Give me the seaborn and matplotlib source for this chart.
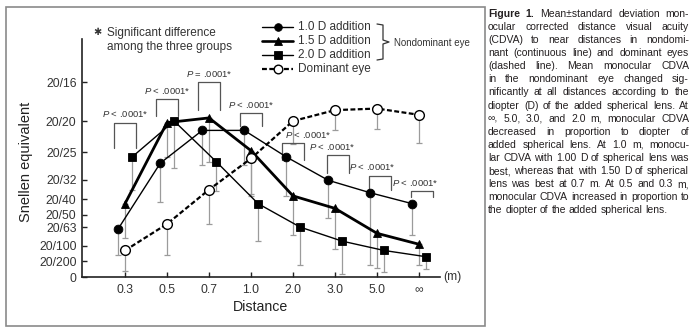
import numpy as np
import pandas as pd
import matplotlib
matplotlib.use('Agg')
import matplotlib.pyplot as plt
import seaborn as sns
from matplotlib.lines import Line2D
from matplotlib.patches import Rectangle

# ---------------- data ----------------
distances = ['0.3', '0.5', '0.7', '1.0', '2.0', '3.0', '5.0', '∞']
series_names = ['1.0 D addition', '1.5 D addition', '2.0 D addition', 'Dominant eye']

add_10 = [0.31, 0.73, 0.94, 0.94, 0.77, 0.62, 0.54, 0.47]
add_10_sd = [0.17, 0.25, 0.22, 0.22, 0.25, 0.24, 0.46, 0.20]
add_15 = [0.47, 0.99, 1.02, 0.81, 0.52, 0.44, 0.28, 0.21]
add_15_sd = [0.22, 0.22, 0.28, 0.28, 0.25, 0.26, 0.22, 0.13]
add_20 = [0.77, 1.00, 0.74, 0.47, 0.32, 0.23, 0.17, 0.13]
add_20_sd = [0.21, 0.30, 0.19, 0.24, 0.24, 0.21, 0.14, 0.08]
dominant = [0.17, 0.34, 0.56, 0.76, 1.00, 1.07, 1.08, 1.04]
dominant_sd = [0.13, 0.20, 0.22, 0.24, 0.15, 0.13, 0.13, 0.18]

snellen_labels = ['0', '20/200', '20/100', '20/63', '20/50', '20/40',
                  '20/32', '20/25', '20/20', '20/16']
snellen_denoms = [None, 200, 100, 63, 50, 40, 32, 25, 20, 16]

p_labels = ['$P$ < .0001*', '$P$ < .0001*', '$P$ = .0001*', '$P$ < .0001*',
            '$P$ < .0001*', '$P$ < .0001*', '$P$ < .0001*', '$P$ < .0001*']
bracket_top = [0.99, 1.14, 1.25, 1.05, 0.86, 0.78, 0.65, 0.55]
bracket_leg = [0.83, 1.03, 1.07, 0.97, 0.75, 0.67, 0.56, 0.51]
bracket_dx = [0, 0, 0, 0, 0, 0.07, 0.07, 0.07]
ptext_dx = [0, 0, 0, 0, 0.36, -0.07, -0.12, -0.1]

caption_lines = [
    "Figure 1. Mean\u00b1standard deviation mon-",
    "ocular corrected distance visual acuity",
    "(CDVA) to near distances in nondomi-",
    "nant (continuous line) and dominant eyes",
    "(dashed line). Mean monocular CDVA",
    "in the nondominant eye changed sig-",
    "nificantly at all distances according to the",
    "diopter (D) of the added spherical lens. At",
    "\u221e, 5.0, 3.0, and 2.0 m, monocular CDVA",
    "decreased in proportion to diopter of",
    "added spherical lens. At 1.0 m, monocu-",
    "lar CDVA with 1.00 D of spherical lens was",
    "best, whereas that with 1.50 D of spherical",
    "lens was best at 0.7 m. At 0.5 and 0.3 m,",
    "monocular CDVA increased in proportion to",
    "the diopter of the added spherical lens.",
]

values = [add_10, add_15, add_20, dominant]
sds = [add_10_sd, add_15_sd, add_20_sd, dominant_sd]

rows = []
for name, vals, sd in zip(series_names, values, sds):
    for i, (d, v, s) in enumerate(zip(distances, vals, sd)):
        rows.append(dict(series=name, distance=d, idx=i, acuity=v, sd=s))
df = pd.DataFrame(rows)

# ---------------- style ----------------
sns.set_style('ticks')
plt.rcParams['font.family'] = ['Liberation Sans', 'DejaVu Sans']
plt.rcParams['mathtext.fontset'] = 'custom'
plt.rcParams['mathtext.rm'] = 'Liberation Sans'
plt.rcParams['mathtext.it'] = 'Liberation Sans:italic'

styles = {
    '1.0 D addition': dict(marker='o', ms=6.3, lw=1.0, dashes=None, mfc='black', dx=-0.16),
    '1.5 D addition': dict(marker='^', ms=6.0, lw=2.0, dashes=None, mfc='black', dx=0.0),
    '2.0 D addition': dict(marker='s', ms=6.0, lw=1.0, dashes=None, mfc='black', dx=0.17),
    'Dominant eye': dict(marker='o', ms=7.0, lw=1.6, dashes=(2.2, 1.1), mfc='white', dx=0.0),
}

W, H = 690, 335
fig = plt.figure(figsize=(W / 100, H / 100), dpi=100)

def fx(x):
    return x / W

def fy(y):
    return 1 - y / H

ax = fig.add_axes([fx(82), fy(277), (440 - 82) / W, (277 - 39) / H])

for name in series_names:
    st = styles[name]
    sub = df[df.series == name].copy()
    sub['pos'] = sub['idx'] + st['dx']
    # error bars (lower SD only)
    ax.errorbar(sub['pos'], sub['acuity'], yerr=[sub['sd'], np.zeros(len(sub))],
                fmt='none', ecolor='#9b9b9b', elinewidth=0.9, capsize=2,
                capthick=0.9, zorder=1)
    kw = dict(color='black', marker=st['marker'], markersize=st['ms'],
              linewidth=st['lw'], markerfacecolor=st['mfc'],
              markeredgecolor='black', markeredgewidth=1.0 if st['mfc'] == 'white' else 0.6)
    if st['dashes'] is not None:
        kw['dashes'] = st['dashes']
    sns.lineplot(data=sub, x='pos', y='acuity', ax=ax, legend=False,
                 sort=False, errorbar=None, zorder=3, **kw)

# P-value brackets
hw = 0.27
for i, (lab, top, leg, bdx, tdx) in enumerate(zip(p_labels, bracket_top, bracket_leg,
                                                  bracket_dx, ptext_dx)):
    cx = i + bdx
    ax.plot([cx - hw, cx - hw, cx + hw, cx + hw], [leg, top, top, leg],
            color='#555555', lw=0.9, zorder=2)
    ax.annotate(lab, xy=(i + tdx, top), xytext=(0, 6), textcoords='offset points',
                ha='center', va='center', fontsize=6.8, color='#333333')

# axes formatting
ax.set_xlim(-1.024, 7.5)
ax.set_ylim(0, 1.526)
ax.set_xticks(range(len(distances)))
ax.set_xticklabels(distances, fontsize=8.7)
yt = [0 if d is None else 20 / d for d in snellen_denoms]
ax.set_yticks(yt)
ax.set_yticklabels(snellen_labels, fontsize=8.7)
for s in ['top', 'right']:
    ax.spines[s].set_visible(False)
for s in ['left', 'bottom']:
    ax.spines[s].set_linewidth(1.2)
    ax.spines[s].set_color('#222222')
ax.tick_params(axis='both', direction='in', length=3.5, width=1.0, colors='#222222',
               labelcolor='#333333')
ax.tick_params(axis='y', pad=4)
ax.tick_params(axis='x', pad=5)
ax.set_xlabel('Distance', fontsize=10.2, color='#222222')
ax.xaxis.set_label_coords((260 - 82) / 358, (277 - 307) / 238)
ax.xaxis.label.set_va('center')
ax.set_ylabel('Snellen equivalent', fontsize=10.5, color='#222222')
ax.yaxis.label.set_va('center')
ax.yaxis.set_label_coords((26 - 82) / 358, (277 - 162) / 238)
ax.text(1.008, 0.0, '(m)', transform=ax.transAxes, fontsize=8.7, va='center',
        ha='left', color='#333333')

# header note
fig.text(fx(93), fy(32), '\u2731', fontsize=7, va='center', ha='left', color='#333333',
         family=['DejaVu Sans'])
fig.text(fx(107), fy(33), 'Significant difference', fontsize=8.5, va='center',
         ha='left', color='#333333')
fig.text(fx(107), fy(47), 'among the three groups', fontsize=8.5, va='center',
         ha='left', color='#333333')

# legend (manual)
for i, name in enumerate(series_names):
    st = styles[name]
    y = 27 + 14 * i
    ln = Line2D([fx(262), fx(277.5), fx(293)], [fy(y)] * 3, transform=fig.transFigure,
                color='black', lw=st['lw'] if name != '1.5 D addition' else 1.9,
                marker=st['marker'], markevery=[1], markersize=st['ms'] - 0.8,
                markerfacecolor=st['mfc'], markeredgecolor='black',
                markeredgewidth=1.0 if st['mfc'] == 'white' else 0.6)
    if st['dashes'] is not None:
        ln.set_dashes(st['dashes'])
    fig.add_artist(ln)
    fig.text(fx(298), fy(y), name, fontsize=8.5, va='center', ha='left', color='#333333')

# brace for nondominant eye
bx = [377, 383, 383, 389, 383, 383, 377]
by = [24, 25, 40, 42, 44, 59, 60]
fig.add_artist(Line2D([fx(v) for v in bx], [fy(v) for v in by],
                      transform=fig.transFigure, color='#333333', lw=0.9))
fig.text(fx(394), fy(43), 'Nondominant eye', fontsize=7, va='center', ha='left',
         color='#333333')

# frame around chart
fig.add_artist(Rectangle((fx(6), fy(326)), (485 - 6) / W, (326 - 7) / H,
                         transform=fig.transFigure, fill=False,
                         edgecolor='#8a8a8a', lw=1.2))

# caption (justified)
renderer = fig.canvas.get_renderer()
cap_fs = 7.5
x0, x1 = 488, 689
for i, line in enumerate(caption_lines):
    words = line.split(' ')
    base_y = 16.8 + 13.1 * i
    texts = []
    for j, w in enumerate(words):
        bold = (i == 0 and j < 2)
        t = fig.text(0, 0, w, fontsize=cap_fs, fontweight='bold' if bold else 'normal',
                     va='baseline', ha='left', color='#231f20')
        texts.append(t)
    widths = [t.get_window_extent(renderer).width for t in texts]
    if i < len(caption_lines) - 1 and len(words) > 1:
        gap = (x1 - x0 - sum(widths)) / (len(words) - 1)
    else:
        gap = 0.278 * cap_fs * 100 / 72
    x = x0
    for t, w in zip(texts, widths):
        t.set_position((fx(x), fy(base_y)))
        x += w + gap

fig.savefig('out.png', dpi=100)
